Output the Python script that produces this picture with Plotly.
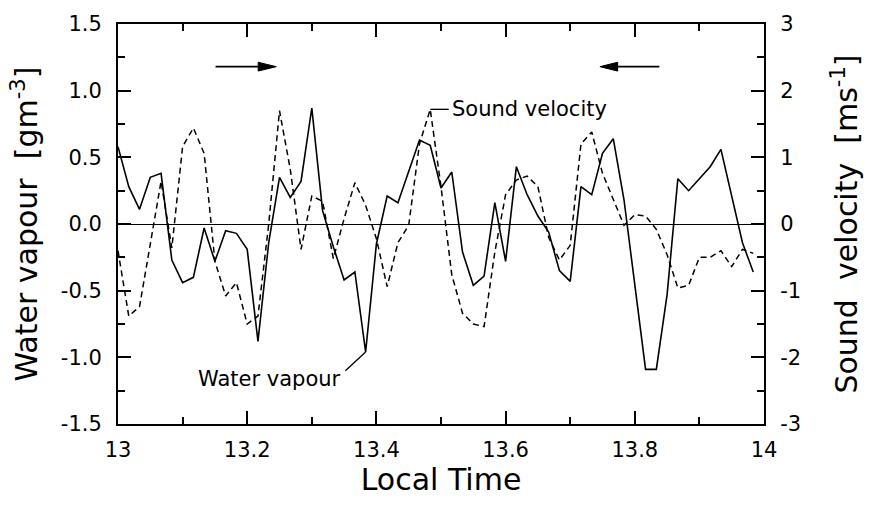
import plotly.graph_objects as go

# ---- data (one sample per minute, 13:00 -> 13:59) ----
minutes = list(range(60))
time_h = [13 + m / 60 for m in minutes]

water_vapour = [  # g m^-3
    0.58, 0.28, 0.11, 0.35, 0.38, -0.27, -0.44, -0.40, -0.03, -0.28,
    -0.05, -0.07, -0.19, -0.88, -0.14, 0.35, 0.20, 0.32, 0.87, 0.10,
    -0.17, -0.42, -0.36, -0.96, -0.15, 0.21, 0.16, 0.39, 0.63, 0.59,
    0.27, 0.39, -0.21, -0.46, -0.39, 0.16, -0.28, 0.43, 0.22, 0.06,
    -0.06, -0.35, -0.43, 0.28, 0.22, 0.53, 0.64, 0.18, -0.45, -1.09,
    -1.09, -0.53, 0.34, 0.25, 0.34, 0.43, 0.56, 0.20, -0.14, -0.36,
]

sound_velocity = [  # m s^-1
    -0.40, -1.38, -1.24, -0.28, 0.64, -0.36, 1.16, 1.44, 1.06, -0.56,
    -1.08, -0.88, -1.50, -1.38, 0.00, 1.70, 0.82, -0.38, 0.42, 0.34,
    -0.52, 0.08, 0.62, 0.28, -0.22, -0.94, -0.28, -0.02, 1.20, 1.72,
    0.56, -0.76, -1.34, -1.50, -1.54, -0.42, 0.44, 0.66, 0.72, 0.56,
    -0.20, -0.54, -0.32, 1.20, 1.38, 0.76, 0.38, -0.02, 0.14, 0.12,
    -0.08, -0.46, -0.96, -0.92, -0.50, -0.50, -0.40, -0.64, -0.38, -0.44,
]

x_ticks = [13, 13.2, 13.4, 13.6, 13.8, 14]
x_tick_labels = ["13", "13.2", "13.4", "13.6", "13.8", "14"]
y_ticks = [-1.5, -1.0, -0.5, 0.0, 0.5, 1.0, 1.5]
y_tick_labels = ["-1.5", "-1.0", "-0.5", "0.0", "0.5", "1.0", "1.5"]
y2_ticks = [-3, -2, -1, 0, 1, 2, 3]
y2_tick_labels = ["-3", "-2", "-1", "0", "1", "2", "3"]

FONT = "DejaVu Sans"

fig = go.Figure()
fig.add_trace(go.Scatter(
    x=time_h, y=water_vapour, mode="lines", name="Water vapour",
    line=dict(color="black", width=1.6), yaxis="y"))
fig.add_trace(go.Scatter(
    x=time_h, y=sound_velocity, mode="lines", name="Sound velocity",
    line=dict(color="black", width=1.5, dash="6px,4px"), yaxis="y2"))

axis_common = dict(
    showline=True, linecolor="black", linewidth=2, showgrid=False,
    ticks="inside", ticklen=13, tickwidth=1.5, tickcolor="black",
    tickfont=dict(size=21, family=FONT, color="black"),
)

fig.update_layout(
    width=870, height=508,
    margin=dict(l=118, r=103, t=19, b=84),
    paper_bgcolor="white", plot_bgcolor="white",
    showlegend=False,
    font=dict(family=FONT, color="black"),
    xaxis=dict(
        **axis_common, range=[13, 14], tickmode="array",
        tickvals=x_ticks, ticktext=x_tick_labels, mirror="ticks",
        zeroline=False, ticklabelstandoff=6,
        minor=dict(tickmode="linear", tick0=13, dtick=0.1, ticks="inside",
                   ticklen=7, tickwidth=1.5, tickcolor="black"),
        title=dict(text="Local Time", font=dict(size=30, family=FONT),
                   standoff=0),
    ),
    yaxis=dict(
        **axis_common, range=[-1.5, 1.5], tickmode="array",
        tickvals=y_ticks, ticktext=y_tick_labels,
        zeroline=True, zerolinecolor="black", zerolinewidth=1.2,
        ticklabelstandoff=10,
        minor=dict(tickmode="linear", tick0=-1.5, dtick=0.25, ticks="inside",
                   ticklen=7, tickwidth=1.5, tickcolor="black"),
        title=dict(text="Water vapour&nbsp;&nbsp;[gm<sup>-3</sup>]",
                   font=dict(size=30, family=FONT), standoff=14),
    ),
    yaxis2=dict(
        **axis_common, range=[-3, 3], overlaying="y", side="right",
        tickmode="array", tickvals=y2_ticks, ticktext=y2_tick_labels,
        zeroline=False, ticklabelstandoff=10,
        minor=dict(tickmode="linear", tick0=-3, dtick=0.5, ticks="inside",
                   ticklen=7, tickwidth=1.5, tickcolor="black"),
        title=dict(text="Sound&nbsp;&nbsp;velocity&nbsp;&nbsp;[ms<sup>-1</sup>]",
                   font=dict(size=30, family=FONT), standoff=36),
    ),
)

# ---- direction arrows (decorations) ----
arrow_y = 1.18
shapes = [
    dict(type="line", xref="x", yref="y", x0=13.151, x1=13.220, y0=arrow_y, y1=arrow_y,
         line=dict(color="black", width=1.6)),
    dict(type="path", xref="x", yref="y",
         path=f"M 13.217,{arrow_y - 0.033} L 13.245,{arrow_y} L 13.217,{arrow_y + 0.033} Z",
         fillcolor="black", line=dict(color="black", width=1)),
    dict(type="line", xref="x", yref="y", x0=13.770, x1=13.838, y0=arrow_y, y1=arrow_y,
         line=dict(color="black", width=1.6)),
    dict(type="path", xref="x", yref="y",
         path=f"M 13.7735,{arrow_y - 0.033} L 13.746,{arrow_y} L 13.7735,{arrow_y + 0.033} Z",
         fillcolor="black", line=dict(color="black", width=1)),
    # leader for "Sound velocity" label (from dashed peak)
    dict(type="line", xref="x", yref="y2", x0=time_h[29], x1=13.512,
         y0=sound_velocity[29], y1=sound_velocity[29],
         line=dict(color="black", width=1.3)),
    # leader for "Water vapour" label (to solid minimum)
    dict(type="line", xref="x", yref="y", x0=13.352, x1=time_h[23],
         y0=-1.10, y1=water_vapour[23],
         line=dict(color="black", width=1.3)),
]
fig.update_layout(shapes=shapes)

fig.add_annotation(x=13.514, y=sound_velocity[29], xref="x", yref="y2",
                   text="Sound velocity", showarrow=False, xanchor="left",
                   yanchor="middle", font=dict(size=21, family=FONT, color="black"))
fig.add_annotation(x=13.348, y=-1.16, xref="x", yref="y",
                   text="Water vapour", showarrow=False, xanchor="right",
                   yanchor="middle", font=dict(size=21, family=FONT, color="black"))

fig.write_html("out.html")
